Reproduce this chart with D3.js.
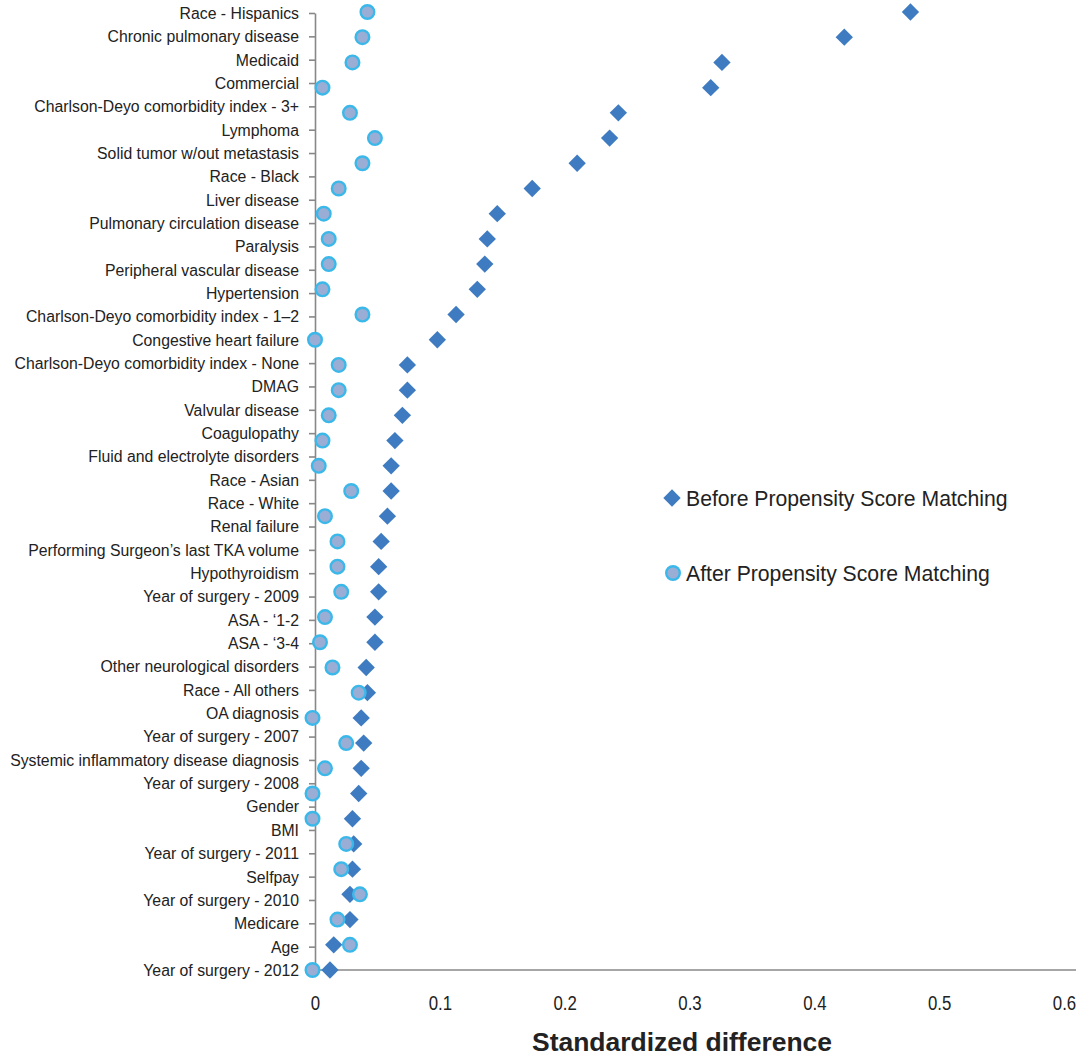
<html>
    <head>
        <title>Standardized difference before and after propensity score matching</title>
        <script type="text/javascript" src="https://cdn.jsdelivr.net/npm/d3@7"></script>
        <style type="text/css">
            body { margin: 0; background: #fff; }
            text { font-family: "Liberation Sans", Arial, Helvetica, sans-serif; fill: #222; }
        </style>
    </head>
    <body>
        <script type="text/javascript">

            // axis labels (42 of them, as printed on the y axis)
            var labels = [
                "Race - Hispanics", "Chronic pulmonary disease", "Medicaid", "Commercial",
                "Charlson-Deyo comorbidity index - 3+", "Lymphoma", "Solid tumor w/out metastasis",
                "Race - Black", "Liver disease", "Pulmonary circulation disease", "Paralysis",
                "Peripheral vascular disease", "Hypertension", "Charlson-Deyo comorbidity index - 1\u20132",
                "Congestive heart failure", "Charlson-Deyo comorbidity index - None", "DMAG",
                "Valvular disease", "Coagulopathy", "Fluid and electrolyte disorders", "Race - Asian",
                "Race - White", "Renal failure", "Performing Surgeon\u2019s last TKA volume",
                "Hypothyroidism", "Year of surgery - 2009", "ASA - \u20181-2", "ASA - \u20183-4",
                "Other neurological disorders", "Race - All others", "OA diagnosis",
                "Year of surgery - 2007", "Systemic inflammatory disease diagnosis",
                "Year of surgery - 2008", "Gender", "BMI", "Year of surgery - 2011", "Selfpay",
                "Year of surgery - 2010", "Medicare", "Age", "Year of surgery - 2012"
            ];

            // plotted rows (39 of them, top to bottom)
            var before = [
                0.477, 0.424, 0.326, 0.317, 0.243, 0.236, 0.210, 0.174, 0.146, 0.138,
                0.136, 0.130, 0.113, 0.098, 0.074, 0.074, 0.070, 0.064, 0.061, 0.061,
                0.058, 0.053, 0.051, 0.051, 0.048, 0.048, 0.041, 0.042, 0.037, 0.039,
                0.037, 0.035, 0.030, 0.031, 0.030, 0.028, 0.028, 0.015, 0.012
            ];
            var after = [
                0.042, 0.038, 0.030, 0.006, 0.028, 0.048, 0.038, 0.019, 0.007, 0.011,
                0.011, 0.006, 0.038, 0.000, 0.019, 0.019, 0.011, 0.006, 0.003, 0.029,
                0.008, 0.018, 0.018, 0.021, 0.008, 0.004, 0.014, 0.035, -0.002, 0.025,
                0.008, -0.002, -0.002, 0.025, 0.021, 0.036, 0.018, 0.028, -0.002
            ];

            var xTicks = [0, 0.1, 0.2, 0.3, 0.4, 0.5, 0.6];
            var legendNames = ["Before Propensity Score Matching", "After Propensity Score Matching"];

            var width = 1090;
            var height = 1056;
            var diamondColor = "#3e7bc0";
            var circleFill = "#9aadd4";
            var circleStroke = "#3bb8ea";

            var svg = d3.select("body")
                .append("svg")
                    .attr("width", width)
                    .attr("height", height);

            var xScale = d3.scaleLinear()
                .domain([0, 0.6])
                .range([315, 1064]);

            var labelScale = d3.scalePoint()
                .domain(labels)
                .range([13, 970]);

            var rowScale = d3.scalePoint()
                .domain(d3.range(before.length))
                .range([12, 970]);

            // condensed look (the original uses a narrow Helvetica)
            function squeeze(sel, k) {
                sel.each(function() {
                    var w = this.getComputedTextLength();
                    d3.select(this)
                        .attr("textLength", w * k)
                        .attr("lengthAdjust", "spacingAndGlyphs");
                });
            }

            // y axis
            var yAxis = svg.append("g")
                .attr("transform", "translate(315,0)")
                .call(d3.axisLeft(labelScale).tickSize(6).tickPadding(10).tickSizeOuter(0));
            yAxis.select(".domain").attr("stroke", "#888").attr("stroke-width", 1.6);
            yAxis.selectAll(".tick line").attr("stroke", "#888").attr("stroke-width", 1.6);
            yAxis.selectAll(".tick text")
                .style("font-size", "15.8px")
                .attr("fill", "#222")
                .attr("dy", "0.34em");

            // x axis
            var xAxis = svg.append("g")
                .attr("transform", "translate(0,970)")
                .call(d3.axisBottom(xScale).tickValues(xTicks).tickSize(0).tickPadding(26)
                    .tickFormat(function(d) { return d === 0 ? "0" : d3.format(".1f")(d); }));
            xAxis.select(".domain").remove();
            xAxis.append("line")
                .attr("x1", 315).attr("x2", 1076)
                .attr("stroke", "#888").attr("stroke-width", 1.6);
            xAxis.selectAll(".tick text")
                .style("font-size", "20px")
                .attr("fill", "#222")
                .call(squeeze, 0.84);

            svg.append("text")
                .attr("x", 682)
                .attr("y", 1051)
                .attr("text-anchor", "middle")
                .style("font-size", "26.5px")
                .style("font-weight", "bold")
                .attr("textLength", 300)
                .attr("lengthAdjust", "spacingAndGlyphs")
                .text("Standardized difference");

            var diamond = d3.symbol().type(d3.symbolSquare).size(150);

            // before matching
            svg.append("g")
                .selectAll("path")
                .data(before)
                .enter()
                .append("path")
                    .attr("d", diamond)
                    .attr("fill", diamondColor)
                    .attr("transform", function(d, i) {
                        return "translate(" + xScale(d) + "," + rowScale(i) + ") rotate(45)";
                    });

            // after matching
            svg.append("g")
                .selectAll("circle")
                .data(after)
                .enter()
                .append("circle")
                    .attr("cx", function(d) { return xScale(d); })
                    .attr("cy", function(d, i) { return rowScale(i); })
                    .attr("r", 6.8)
                    .attr("fill", circleFill)
                    .attr("stroke", circleStroke)
                    .attr("stroke-width", 2.4);

            // legend
            var legend = svg.append("g");
            legend.append("path")
                .attr("d", diamond)
                .attr("fill", diamondColor)
                .attr("transform", "translate(672,498) rotate(45)");
            legend.append("circle")
                .attr("cx", 673).attr("cy", 573).attr("r", 6.8)
                .attr("fill", circleFill)
                .attr("stroke", circleStroke)
                .attr("stroke-width", 2.4);
            legend.selectAll("text")
                .data(legendNames)
                .enter()
                .append("text")
                    .attr("x", 686)
                    .attr("y", function(d, i) { return i === 0 ? 498 : 573; })
                    .attr("dy", "0.36em")
                    .style("font-size", "21.2px")
                    .text(function(d) { return d; });

        </script>
    </body>
</html>
